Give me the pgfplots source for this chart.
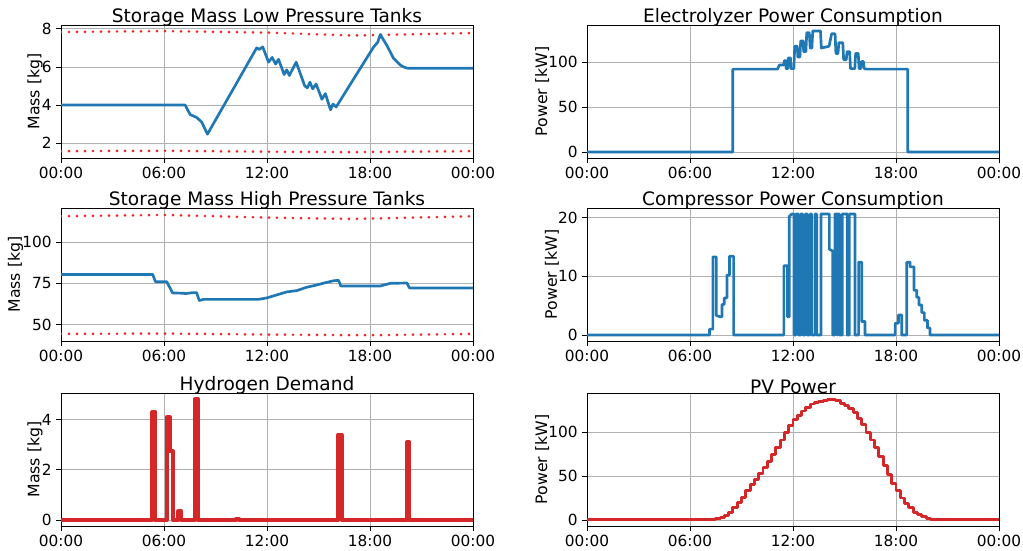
\documentclass[border=0pt]{standalone}
\usepackage{fontspec}
\setmainfont{DejaVu Sans}
\usepackage{pgfplots}
\pgfplotsset{compat=1.18}

\definecolor{mblue}{RGB}{31,119,180}
\definecolor{mred}{RGB}{214,39,40}
\definecolor{dred}{RGB}{235,35,35}
\definecolor{gridc}{RGB}{176,176,176}

\pgfplotsset{
  panel/.style={
    scale only axis, width=309pt, height=99.75pt,
    anchor=north west,
    xmin=0, xmax=24,
    xtick={0,6,12,18,24},
    xticklabels={00:00,06:00,12:00,18:00,00:00},
    grid=major,
    grid style={line width=0.6pt, color=gridc},
    axis line style={line width=0.6pt},
    tick style={black, line width=0.6pt},
    tick align=outside, major tick length=3.5pt,
    tick pos=left,
    ticklabel style={font=\fontsize{11.5}{13}\selectfont},
    label style={font=\fontsize{11.8}{13}\selectfont},
    ylabel style={yshift=-7.5pt},
    title style={font=\fontsize{13.9}{16}\selectfont, inner sep=0pt, yshift=-7pt},
    /pgf/number format/assume math mode=true,
    no markers,
  },
  blueline/.style={mblue, line width=2pt, line join=round},
  limit/.style={dred, line width=2.2pt, line cap=round, dash pattern=on 0pt off 6pt},
}

\begin{document}
\begin{tikzpicture}
\useasboundingbox (0,0) rectangle (767.25pt,412.5pt);

% ---- Storage mass low pressure
\begin{axis}[panel, at={(45.75pt,393.75pt)},
  title={Storage Mass Low Pressure Tanks},
  ylabel={Mass [kg]}, ymin=1.22, ymax=8.2, ytick={2,4,6,8}]
\addplot[limit] coordinates {(0,7.83)(6,7.88)(12,7.8)(17,7.65)(24,7.78)};
\addplot[limit] coordinates {(0,1.58)(6,1.6)(12,1.55)(17,1.53)(24,1.58)};
\addplot[blueline] coordinates {
 (0,4.0)(7.23,4.0)(7.52,3.5)(7.9,3.35)(8.2,3.1)(8.53,2.47)(11.4,7.0)
 (11.55,6.92)(11.75,7.05)(12.09,6.25)(12.3,6.5)(12.5,6.15)(12.67,6.4)
 (13.0,5.6)(13.15,5.85)(13.3,5.55)(13.7,6.25)(14.2,5.0)(14.35,4.9)
 (14.5,5.2)(14.66,4.85)(14.86,5.1)(15.2,4.3)(15.4,4.6)(15.7,3.75)
 (15.84,4.05)(16.03,3.9)(18.2,7.03)(18.45,7.3)(18.6,7.7)(19.0,7.1)
 (19.37,6.45)(19.76,6.1)(20.0,5.98)(20.2,5.93)(24,5.93)};
\end{axis}

% ---- Electrolyzer
\begin{axis}[panel, at={(440.25pt,393.75pt)},
  title={Electrolyzer Power Consumption},
  ylabel={Power [kW]}, ymin=-6.75, ymax=141.75, ytick={0,50,100}]
\addplot[blueline] coordinates {
 (0,0)(8.49,0)(8.49,92.5)(11.1,92.5)(11.2,97)(11.45,97)(11.5,102)(11.58,102)
 (11.6,93)(11.7,93)(11.72,105)(11.85,105)(11.88,93)(12.05,93)(12.1,118)
 (12.25,118)(12.28,106)(12.4,106)(12.45,124)(12.6,124)(12.62,112)(12.75,112)
 (12.8,133)(12.95,133)(13.0,116)(13.1,116)(13.15,135)(13.6,135)(13.65,116)
 (14.1,118)(14.25,132)(14.45,132)(14.5,110)(14.62,110)(14.67,122)(14.9,122)
 (14.95,103)(15.1,103)(15.15,112)(15.3,112)(15.35,93)(15.6,93)(15.65,110)
 (15.8,110)(15.85,93)(15.95,93)(16.0,101)(16.1,101)(16.15,93)(16.3,92.5)
 (18.68,92.5)(18.68,0)(24,0)};
\end{axis}

% ---- Storage mass high pressure
\begin{axis}[panel, at={(45.75pt,256.5pt)},
  title={Storage Mass High Pressure Tanks},
  ylabel={Mass [kg]}, ymin=40.1, ymax=120.6, ytick={50,75,100}]
\addplot[limit] coordinates {(0,115.6)(6,116.4)(12,114.8)(17,114)(24,115.6)};
\addplot[limit] coordinates {(0,44.4)(6,44.6)(12,44)(18,43.6)(24,44.4)};
\addplot[blueline] coordinates {
 (0,80.4)(5.34,80.4)(5.5,76)(6.16,76)(6.5,69.2)(7.13,69)(7.25,68.8)
 (7.7,69.4)(7.9,69.4)(8.05,64.6)(8.3,65.3)(11.5,65.3)(12,66.2)(12.57,68)
 (13.15,69.8)(13.74,70.6)(14.3,72.6)(14.9,74)(15.4,75.4)(15.9,76.6)
 (16.17,76.8)(16.3,73.4)(18.6,73.4)(19.18,75.0)(20.15,75.2)(20.3,72.2)(24,72.2)};
\end{axis}

% ---- Compressor
\begin{axis}[panel, at={(440.25pt,256.5pt)},
  title={Compressor Power Consumption},
  ylabel={Power [kW]}, ymin=-1.03, ymax=21.63, ytick={0,10,20}]
\addplot[blueline] coordinates {
 (0,0)(7.14,0)(7.14,1.0)(7.33,1.0)(7.33,13.3)(7.53,13.3)(7.53,3.3)(7.76,3.1)
 (7.86,3.1)(7.86,5.2)(7.99,5.2)(7.99,6.3)(8.15,6.3)(8.15,10.2)(8.3,10.2)
 (8.3,13.4)(8.54,13.4)(8.54,0)
 (11.47,0)(11.47,11.8)(11.67,11.8)(11.67,3.1)(11.78,3.1)(11.78,20.2)
 (11.92,20.6)(12.06,20.6)(12.06,0)(12.17,0)(12.17,20.6)(12.31,20.6)(12.31,0)
 (12.45,0)(12.45,20.6)(12.56,20.6)(12.56,0)(12.72,0)(12.72,20.6)(12.83,20.6)
 (12.83,0)(13.0,0)(13.0,20.6)(13.08,20.6)(13.08,0)(13.28,0)(13.28,20.6)
 (13.38,20.6)(13.38,0)(13.63,0)(13.63,20.6)(14.12,20.6)(14.12,14.6)
 (14.31,14.3)(14.31,0)(14.44,0)(14.44,20.6)(14.57,20.6)(14.57,0)(14.6,0)
 (14.6,20.6)(14.7,20.6)(14.7,0)(14.87,0)(14.87,20.6)(15.16,20.6)(15.16,0)
 (15.28,0)(15.28,20.6)(15.61,20.6)(15.61,0)
 (15.82,0)(15.82,12.4)(16.0,12.4)(16.0,2.3)(16.19,2.3)(16.19,0)
 (17.95,0)(17.95,2.0)(18.14,2.0)(18.14,3.4)(18.33,3.4)(18.33,0)(18.63,0)
 (18.63,12.4)(18.82,12.4)(18.82,11.6)(19.05,11.6)(19.05,7.6)(19.21,7.6)
 (19.21,6.4)(19.34,6.4)(19.34,5.1)(19.5,5.1)(19.5,3.8)(19.65,3.8)(19.65,2.5)
 (19.83,2.5)(19.83,1.2)(19.98,1.2)(19.98,0)(24,0)};
\end{axis}

% ---- Hydrogen demand
\begin{axis}[panel, at={(45.75pt,117.75pt)},
  title={Hydrogen Demand},
  ylabel={Mass [kg]}, ymin=-0.24, ymax=5.06, ytick={0,2,4}]
\addplot[mred, line width=3pt, line join=round] coordinates {
 (0,0)(5.32,0)(5.32,4.3)(5.5,4.3)(5.5,0)(6.16,0)(6.16,4.09)(6.35,4.09)
 (6.35,2.75)(6.51,2.75)(6.51,0)(6.84,0)(6.84,0.35)(7.0,0.35)(7.0,0)(7.81,0)
 (7.81,4.82)(8.0,4.82)(8.0,0)(10.2,0)(10.2,0.05)(10.35,0.05)(10.35,0)
 (16.13,0)(16.13,3.39)(16.34,3.39)(16.34,0)(20.15,0)(20.15,3.1)(20.3,3.1)
 (20.3,0)(24,0)};
\end{axis}

% ---- PV power
\begin{axis}[panel, at={(440.25pt,117.75pt)},
  title={PV Power},
  ylabel={Power [kW]}, ymin=-6.88, ymax=144.5, ytick={0,50,100}]
\addplot[mred, line width=2.2pt, const plot, line join=round] coordinates {
 (0,0)(7.25,0.5)(7.5,1.5)(7.75,3)(8.0,5)(8.25,8)(8.5,14)(8.75,20)(9.0,26)
 (9.25,33)(9.5,40)(9.75,46)(10.0,53)(10.25,60)(10.5,67)(10.75,75)(11.0,83)
 (11.25,91)(11.5,100)(11.75,107)(12.0,114)(12.25,119)(12.5,124)(12.75,128)
 (13.0,132)(13.25,134)(13.5,135)(13.75,136)(14.0,137)(14.25,137.5)(14.5,136)
 (14.75,133)(15.0,130)(15.25,127)(15.5,122)(15.75,116)(16.0,109)(16.25,100)
 (16.5,91)(16.75,82)(17.0,72)(17.25,62)(17.5,52)(17.75,42)(18.0,33)
 (18.25,25)(18.5,19)(18.75,14)(19.0,9)(19.25,6)(19.5,3.5)(19.75,1.5)
 (20.0,0)(24,0)};
\end{axis}
\end{tikzpicture}
\end{document}
